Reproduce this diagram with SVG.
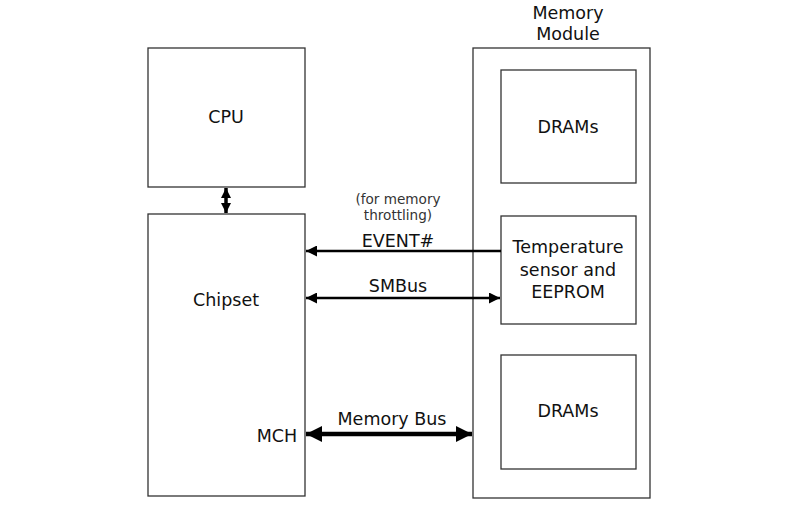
<svg xmlns="http://www.w3.org/2000/svg" width="800" height="514" viewBox="0 0 800 514">
<defs>
<style>
.box{fill:#fff;stroke:#333;stroke-width:1.3}
text{font-family:"DejaVu Sans","Liberation Sans",sans-serif;fill:#111;text-anchor:middle}
.l{font-size:17.5px}
.s{font-size:13.6px;fill:#333}
.c{stroke:#000;fill:none}
</style>
<marker id="ah" viewBox="0 0 10 10" refX="10" refY="5" markerWidth="15" markerHeight="11" markerUnits="userSpaceOnUse" orient="auto-start-reverse"><path d="M0,0L10,5L0,10z" fill="#000"/></marker>
<marker id="ahv" viewBox="0 0 10 10" refX="10" refY="5" markerWidth="10" markerHeight="13" markerUnits="userSpaceOnUse" orient="auto-start-reverse"><path d="M0,0L10,5L0,10z" fill="#000"/></marker>
<marker id="ahb" viewBox="0 0 10 10" refX="10" refY="5" markerWidth="20" markerHeight="16" markerUnits="userSpaceOnUse" orient="auto-start-reverse"><path d="M0,0L10,5L0,10z" fill="#000"/></marker>
</defs>
<rect width="800" height="514" fill="#fff"/>
<g id="cpu"><rect class="box" x="148" y="48" width="157" height="139"/><text class="l" x="226" y="123">CPU</text></g>
<g id="chipset"><rect class="box" x="148" y="214" width="157" height="282"/><text class="l" x="226" y="306">Chipset</text><text class="l" x="277" y="442">MCH</text></g>
<g id="module"><rect class="box" x="473" y="48" width="177" height="450"/><text class="l" x="568" y="19">Memory</text><text class="l" x="568" y="40">Module</text></g>
<g id="dram1"><rect class="box" x="501" y="70" width="135" height="113"/><text class="l" x="568" y="133">DRAMs</text></g>
<g id="sensor"><rect class="box" x="501" y="216" width="135" height="108"/><text class="l" x="568" y="253">Temperature</text><text class="l" x="568" y="276">sensor and</text><text class="l" x="568" y="298">EEPROM</text></g>
<g id="dram2"><rect class="box" x="501" y="355" width="135" height="114"/><text class="l" x="568" y="417">DRAMs</text></g>
<g id="connectors">
<line class="c" x1="226" y1="188" x2="226" y2="213" stroke-width="3.5" marker-start="url(#ahv)" marker-end="url(#ahv)"/>
<line class="c" x1="501" y1="251" x2="306" y2="251" stroke-width="2.5" marker-end="url(#ah)"/>
<line class="c" x1="306" y1="298" x2="500" y2="298" stroke-width="2.5" marker-start="url(#ah)" marker-end="url(#ah)"/>
<line class="c" x1="306" y1="434" x2="472" y2="434" stroke-width="4.5" marker-start="url(#ahb)" marker-end="url(#ahb)"/>
<text class="s" x="398" y="204">(for memory</text>
<text class="s" x="398" y="220">throttling)</text>
<text class="l" x="398" y="247">EVENT#</text>
<text class="l" x="398" y="292">SMBus</text>
<text class="l" x="392" y="425">Memory Bus</text>
</g>
</svg>
